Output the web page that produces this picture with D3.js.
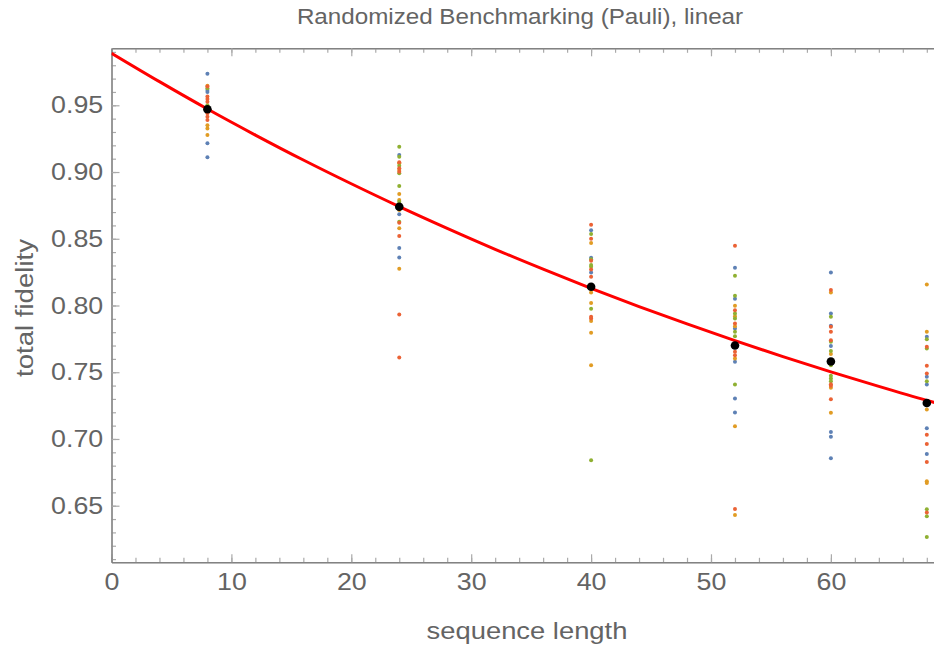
<!DOCTYPE html>
<html>
<head>
<meta charset="utf-8">
<script src="https://cdn.jsdelivr.net/npm/d3@7"></script>
<style>
  body { margin: 0; background: #fff; }
  svg { display: block; font-family: "Liberation Sans", Arial, sans-serif; }
</style>
</head>
<body>
<svg id="chart" width="934" height="651"></svg>
<script>
// sequence lengths and mean fidelity (black dots)
const seqLengths = [8, 24, 40, 52, 60, 68];
const meanFidelity = [0.947, 0.874, 0.814, 0.770, 0.758, 0.727];

// individual runs, one list per sequence length, grouped by colour
const blueFidelity = [
    [0.9737, 0.9615, 0.9600, 0.9215, 0.911],
    [0.9127, 0.8683, 0.843, 0.836],
    [0.8563, 0.8358, 0.8248],
    [0.8283, 0.805, 0.7828, 0.7578, 0.7304, 0.7199],
    [0.8248, 0.794, 0.7848, 0.7696, 0.7053, 0.7016, 0.6856],
    [0.7766, 0.7466, 0.7409, 0.7081, 0.6888]
];
const orangeFidelity = [
    [0.9647, 0.935, 0.9327, 0.9277],
    [0.9065, 0.9015, 0.8835, 0.879, 0.8715, 0.8578, 0.8275],
    [0.8468, 0.8098, 0.8018, 0.7883, 0.7795, 0.7553],
    [0.7998, 0.792, 0.7845, 0.7603, 0.7096, 0.6431],
    [0.8098, 0.7636, 0.7383, 0.7196],
    [0.8158, 0.7803, 0.7221, 0.6684, 0.6671]
];
const greenFidelity = [
    [0.9627, 0.950],
    [0.919, 0.9115, 0.9047, 0.899, 0.8895, 0.8777, 0.8627],
    [0.8535, 0.8346, 0.8303, 0.829, 0.7975, 0.684],
    [0.8223, 0.8073, 0.794, 0.7903, 0.7803, 0.777, 0.7409],
    [0.7915, 0.7728, 0.766, 0.7553, 0.7473, 0.7453, 0.7433],
    [0.7748, 0.7678, 0.7433, 0.6474, 0.6421, 0.6266]
];
const redFidelity = [
    [0.964, 0.9565, 0.9547, 0.9527, 0.945, 0.944, 0.9415, 0.939],
    [0.9073, 0.9028, 0.9002, 0.862, 0.852, 0.7933, 0.761],
    [0.8605, 0.85, 0.8335, 0.827, 0.8215, 0.7915, 0.7903],
    [0.8448, 0.7965, 0.7865, 0.7653, 0.7628, 0.6476],
    [0.8116, 0.784, 0.7803, 0.774, 0.741, 0.7398, 0.7298],
    [0.7691, 0.7548, 0.7491, 0.7031, 0.6963, 0.6828, 0.6449]
];

// fitted decay curve
const fitLengths = [0, 4, 8, 12, 16, 20, 24, 28, 32, 36, 40, 44, 48, 52, 56, 60, 64, 68, 69];
const fitFidelity = [0.989, 0.9677, 0.9472, 0.9277, 0.909, 0.8912, 0.8741, 0.8578, 0.8421,
    0.8272, 0.8129, 0.7992, 0.7862, 0.7737, 0.7617, 0.7503, 0.7394, 0.7289, 0.7264];

const groups = [
    { color: '#5E81B5', values: blueFidelity },
    { color: '#E19C24', values: orangeFidelity },
    { color: '#8FB032', values: greenFidelity },
    { color: '#EB6235', values: redFidelity }
];

const svg = d3.select('#chart');
const textColor = '#646464';
const stretch = 'scale(1.16,1)';

let x = d3.scaleLinear().domain([0, 69]).range([111.5, 938.8]);
let y = d3.scaleLinear().domain([0.6076, 0.9927]).range([562.3, 48.3]);

const plotLeft = x.range()[0], plotRight = x.range()[1];
const plotTop = y.range()[1], plotBottom = y.range()[0];

function styleAxis(g) {
    g.select('.domain').attr('stroke', '#777');
    g.selectAll('.tick line').attr('stroke', '#aaa').attr('stroke-width', 1.2);
}

// minor ticks
svg.append('g')
    .attr('transform', `translate(0,${plotBottom})`)
    .call(d3.axisBottom(x).tickValues(d3.range(0, 70, 2)).tickSize(-4.5).tickSizeOuter(0).tickFormat(''))
    .call(styleAxis);
svg.append('g')
    .attr('transform', `translate(0,${plotTop})`)
    .call(d3.axisTop(x).tickValues(d3.range(0, 70, 2)).tickSize(-4.5).tickSizeOuter(0).tickFormat(''))
    .call(styleAxis);
svg.append('g')
    .attr('transform', `translate(${plotLeft},0)`)
    .call(d3.axisLeft(y).tickValues(d3.range(0.61, 0.995, 0.01)).tickSize(-4.5).tickSizeOuter(0).tickFormat(''))
    .call(styleAxis);

// major ticks with labels
let xAxis = svg.append('g')
    .attr('transform', `translate(0,${plotBottom})`)
    .call(d3.axisBottom(x).tickValues([0, 10, 20, 30, 40, 50, 60]).tickSize(-8).tickSizeOuter(0).tickPadding(11))
    .call(styleAxis);
svg.append('g')
    .attr('transform', `translate(0,${plotTop})`)
    .call(d3.axisTop(x).tickValues([0, 10, 20, 30, 40, 50, 60]).tickSize(-8).tickSizeOuter(0).tickFormat(''))
    .call(styleAxis);
let yAxis = svg.append('g')
    .attr('transform', `translate(${plotLeft},0)`)
    .call(d3.axisLeft(y).tickValues([0.65, 0.70, 0.75, 0.80, 0.85, 0.90, 0.95]).tickSize(-8).tickSizeOuter(0)
        .tickPadding(7.3).tickFormat(d3.format('.2f')))
    .call(styleAxis);

[xAxis, yAxis].forEach(function (g) {
    g.selectAll('text')
        .attr('font-size', 23.5)
        .attr('font-family', '"Liberation Sans", Arial, sans-serif')
        .attr('fill', textColor)
        .attr('transform', 'scale(1.14,1)');
});

// clip for plot marks
svg.append('clipPath').attr('id', 'plotClip')
    .append('rect')
    .attr('x', plotLeft).attr('y', plotTop)
    .attr('width', plotRight - plotLeft).attr('height', plotBottom - plotTop);

const plot = svg.append('g').attr('clip-path', 'url(#plotClip)');

// fit curve
let line = d3.line()
    .x((d, i) => x(fitLengths[i]))
    .y(d => y(d))
    .curve(d3.curveMonotoneX);

plot.append('path')
    .datum(fitFidelity)
    .attr('d', line)
    .attr('fill', 'none')
    .attr('stroke', '#FF0000')
    .attr('stroke-width', 3);

// individual runs
groups.forEach(function (grp) {
    grp.values.forEach(function (vals, i) {
        plot.selectAll(null)
            .data(vals)
            .enter()
            .append('circle')
            .attr('cx', x(seqLengths[i]))
            .attr('cy', d => y(d))
            .attr('r', 2)
            .attr('fill', grp.color);
    });
});

// means
svg.append('g').selectAll('circle')
    .data(meanFidelity)
    .enter()
    .append('circle')
    .attr('cx', (d, i) => x(seqLengths[i]))
    .attr('cy', d => y(d))
    .attr('r', 4.3)
    .attr('fill', '#000');

// title and axis labels
svg.append('text')
    .attr('transform', 'translate(520,24) scale(1.1,1)')
    .attr('text-anchor', 'middle')
    .attr('font-size', 22)
    .attr('fill', textColor)
    .text('Randomized Benchmarking (Pauli), linear');

svg.append('text')
    .attr('transform', 'translate(527,639) scale(1.19,1)')
    .attr('text-anchor', 'middle')
    .attr('font-size', 23)
    .attr('fill', textColor)
    .text('sequence length');

svg.append('text')
    .attr('transform', 'translate(33,308) rotate(-90) scale(1.2,1.08)')
    .attr('text-anchor', 'middle')
    .attr('font-size', 23)
    .attr('fill', textColor)
    .text('total fidelity');
</script>
</body>
</html>
